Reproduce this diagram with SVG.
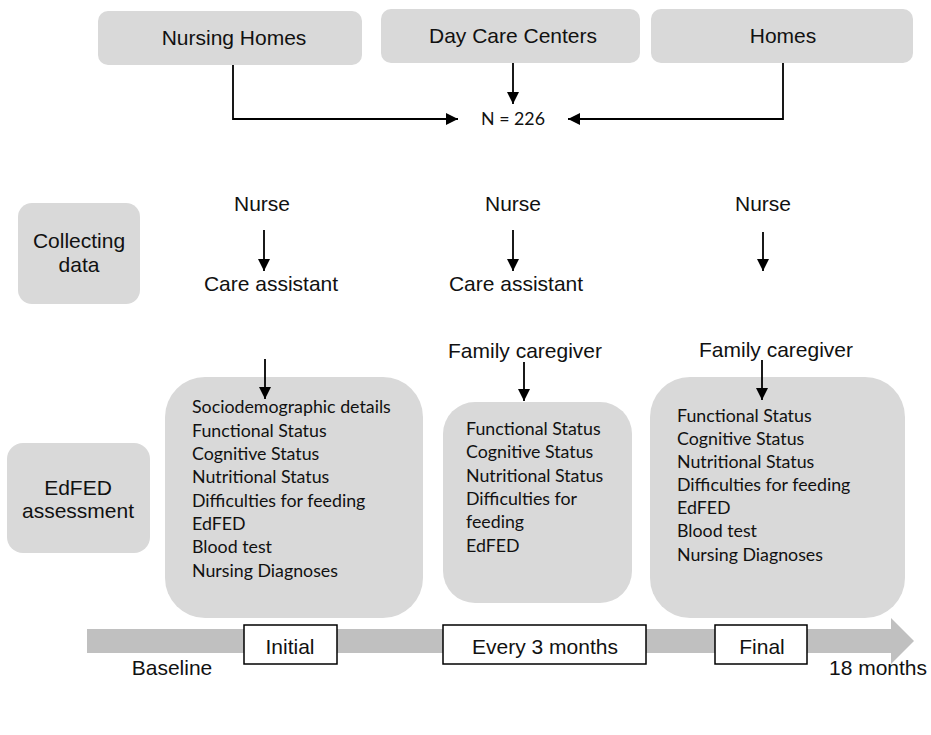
<svg xmlns="http://www.w3.org/2000/svg" width="931" height="735" viewBox="0 0 931 735">
<defs>
<style>
.box{fill:#d9d9d9;stroke:none}
.t{font-family:"Liberation Sans",Arial,sans-serif;font-size:21px;fill:#111}
.c{text-anchor:middle}
.b{font-family:Lato,"Noto Sans",sans-serif;font-size:17.8px;fill:#111}
.ln{fill:none;stroke:#000;stroke-width:1.8}
.tag{fill:#fff;stroke:#000;stroke-width:1.5}
</style>
<marker id="ah" markerUnits="userSpaceOnUse" markerWidth="12" markerHeight="12" refX="12" refY="6" orient="auto">
<path d="M0,0 L12,6 L0,12 z" fill="#000"/>
</marker>
</defs>
<rect width="931" height="735" fill="#fff"/>

<g id="nursing-homes">
<rect class="box" x="98" y="11" width="264" height="54" rx="10"/>
<text class="t c" x="234" y="45">Nursing Homes</text>
</g>
<g id="day-care">
<rect class="box" x="381" y="9" width="259" height="54" rx="10"/>
<text class="t c" x="513" y="43">Day Care Centers</text>
</g>
<g id="homes">
<rect class="box" x="651" y="9" width="262" height="54" rx="10"/>
<text class="t c" x="783" y="43">Homes</text>
</g>
<g id="n226">
<text class="b c" x="513" y="125">N = 226</text>
</g>

<g id="collecting-data">
<rect class="box" x="18" y="203" width="122" height="101" rx="14"/>
<text class="t c" x="79" y="248">Collecting</text>
<text class="t c" x="79" y="272">data</text>
</g>
<g id="edfed-assessment">
<rect class="box" x="7" y="443" width="143" height="110" rx="16"/>
<text class="t c" x="78" y="495">EdFED</text>
<text class="t c" x="78" y="518">assessment</text>
</g>

<g id="col1-labels">
<text class="t c" x="262" y="211">Nurse</text>
<text class="t c" x="271" y="291">Care assistant</text>
</g>
<g id="col2-labels">
<text class="t c" x="513" y="211">Nurse</text>
<text class="t c" x="516" y="291">Care assistant</text>
<text class="t c" x="525" y="358">Family caregiver</text>
</g>
<g id="col3-labels">
<text class="t c" x="763" y="211">Nurse</text>
<text class="t c" x="776" y="357">Family caregiver</text>
</g>

<g id="initial-box">
<rect class="box" x="165" y="377" width="258" height="241" rx="40"/>
<text class="b" x="192" y="413">Sociodemographic details</text>
<text class="b" x="192" y="437">Functional Status</text>
<text class="b" x="192" y="460">Cognitive Status</text>
<text class="b" x="192" y="483">Nutritional Status</text>
<text class="b" x="192" y="507">Difficulties for feeding</text>
<text class="b" x="192" y="530">EdFED</text>
<text class="b" x="192" y="553">Blood test</text>
<text class="b" x="192" y="577">Nursing Diagnoses</text>
</g>
<g id="followup-box">
<rect class="box" x="443" y="402" width="189" height="201" rx="32"/>
<text class="b" x="466" y="435">Functional Status</text>
<text class="b" x="466" y="458">Cognitive Status</text>
<text class="b" x="466" y="482">Nutritional Status</text>
<text class="b" x="466" y="505">Difficulties for</text>
<text class="b" x="466" y="528">feeding</text>
<text class="b" x="466" y="552">EdFED</text>
</g>
<g id="final-box">
<rect class="box" x="650" y="377" width="255" height="241" rx="40"/>
<text class="b" x="677" y="422">Functional Status</text>
<text class="b" x="677" y="445">Cognitive Status</text>
<text class="b" x="677" y="468">Nutritional Status</text>
<text class="b" x="677" y="491">Difficulties for feeding</text>
<text class="b" x="677" y="514">EdFED</text>
<text class="b" x="677" y="537">Blood test</text>
<text class="b" x="677" y="561">Nursing Diagnoses</text>
</g>

<g id="timeline">
<path d="M87,629 L891,629 L891,618 L914,641 L891,664 L891,653 L87,653 z" fill="#c0c0c0"/>
<text class="t c" x="172" y="675">Baseline</text>
<text class="t c" x="878" y="675">18 months</text>
</g>
<g id="tag-initial">
<rect class="tag" x="244" y="625" width="93" height="39"/>
<text class="t c" x="290" y="654">Initial</text>
</g>
<g id="tag-every3">
<rect class="tag" x="443" y="625" width="203" height="39"/>
<text class="t c" x="545" y="654">Every 3 months</text>
</g>
<g id="tag-final">
<rect class="tag" x="715" y="625" width="92" height="39"/>
<text class="t c" x="762" y="654">Final</text>
</g>

<g id="connectors">
<path class="ln" d="M233,65 L233,119 L458,119" marker-end="url(#ah)"/>
<path class="ln" d="M513,63 L513,104" marker-end="url(#ah)"/>
<path class="ln" d="M783,63 L783,119 L568,119" marker-end="url(#ah)"/>
<path class="ln" d="M264,230 L264,271" marker-end="url(#ah)"/>
<path class="ln" d="M513,230 L513,271" marker-end="url(#ah)"/>
<path class="ln" d="M763,232 L763,271" marker-end="url(#ah)"/>
<path class="ln" d="M265,359 L265,399" marker-end="url(#ah)"/>
<path class="ln" d="M524,362 L524,401" marker-end="url(#ah)"/>
<path class="ln" d="M762,360 L762,400" marker-end="url(#ah)"/>
</g>
</svg>
